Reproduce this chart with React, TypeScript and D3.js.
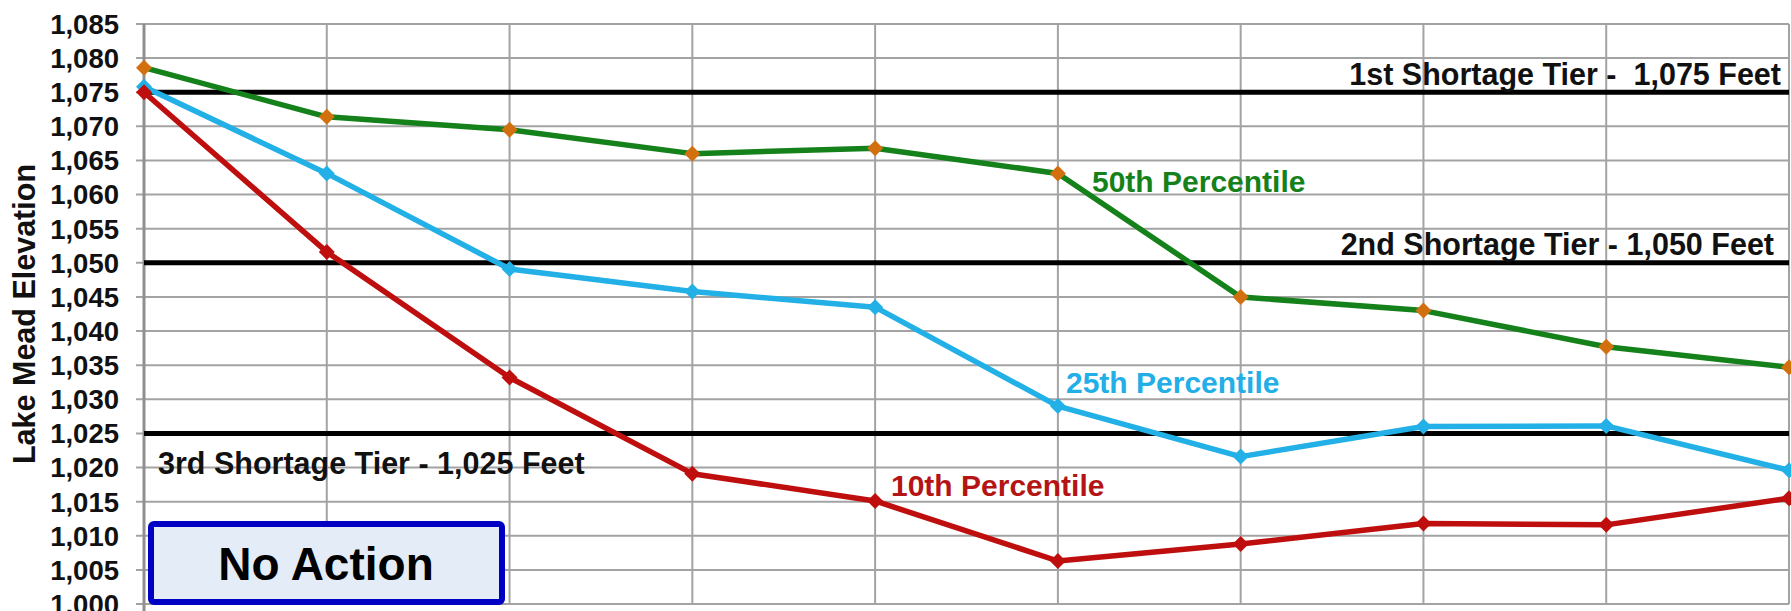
import React from "react";
import * as d3 from "d3";

const categories = ["2015", "2016", "2017", "2018", "2019", "2020", "2021", "2022", "2023", "2024"];
const p50 = [1078.6, 1071.4, 1069.5, 1066.0, 1066.8, 1063.1, 1045.0, 1043.0, 1037.7, 1034.7];
const p25 = [1075.8, 1063.1, 1049.1, 1045.8, 1043.5, 1029.0, 1021.6, 1026.0, 1026.1, 1019.6];
const p10 = [1075.0, 1051.6, 1033.2, 1019.1, 1015.1, 1006.3, 1008.8, 1011.8, 1011.6, 1015.5];
const yTicks = d3.range(1000, 1086, 5);
const tiers = [
  { value: 1075, label: "1st Shortage Tier -\u00a0\u00a01,075 Feet" },
  { value: 1050, label: "2nd Shortage Tier - 1,050 Feet" },
  { value: 1025, label: "3rd Shortage Tier - 1,025 Feet" },
];
const seriesLabels = ["50th Percentile", "25th Percentile", "10th Percentile"];
const boxLabel = "No Action";
const yTitle = "Lake Mead Elevation";

const W = 1791;
const H = 611;
const FONT = "'Liberation Sans', Arial, sans-serif";

export default function App() {
  const x = d3.scalePoint<string>().domain(categories).range([144, 1789]);
  const y = d3.scaleLinear().domain([1000, 1085]).range([604, 24]);
  const line = d3
    .line<number>()
    .x((_, i) => x(categories[i]) as number)
    .y((d) => y(d));
  const sq = d3.symbol(d3.symbolSquare, 128)() as string;

  const series = [
    { data: p50, stroke: "#15811a", marker: "#d2700f", text: "#15811a", label: seriesLabels[0], lx: 1092, ly: 192 },
    { data: p25, stroke: "#22b0e6", marker: "#22b0e6", text: "#22aee6", label: seriesLabels[1], lx: 1066, ly: 393 },
    { data: p10, stroke: "#be0e0e", marker: "#be0e0e", text: "#b41414", label: seriesLabels[2], lx: 891, ly: 496 },
  ];

  return (
    <svg
      width={W}
      height={H}
      style={{ position: "absolute", left: 0, top: 0, background: "#fff" }}
      fontFamily={FONT}
    >
      <rect x={0} y={0} width={W} height={H} fill="#fff" />
      {yTicks.map((t) => (
        <line key={"h" + t} x1={136} x2={1789} y1={y(t)} y2={y(t)} stroke="#a3a3a3" strokeWidth={2} />
      ))}
      {categories.map((c, i) =>
        i === 0 ? null : (
          <line key={"v" + c} x1={x(c)} x2={x(c)} y1={y(1085)} y2={y(1000)} stroke="#a3a3a3" strokeWidth={2} />
        )
      )}
      <line x1={144} x2={144} y1={y(1085)} y2={H} stroke="#8f8f8f" strokeWidth={3} />
      {yTicks.map((t) => (
        <text
          key={"l" + t}
          x={119}
          y={y(t)}
          dy="0.36em"
          textAnchor="end"
          fontSize={27.5}
          fontWeight="bold"
          fill="#111"
        >
          {d3.format(",")(t)}
        </text>
      ))}
      <text
        transform={`translate(35,${314}) rotate(-90)`}
        textAnchor="middle"
        fontSize={30.5}
        fontWeight="bold"
        fill="#111"
      >
        {yTitle}
      </text>
      {tiers.map((t) => (
        <line key={"t" + t.value} x1={144} x2={1789} y1={y(t.value)} y2={y(t.value)} stroke="#000" strokeWidth={5} />
      ))}
      <text x={1781} y={85} textAnchor="end" fontSize={30.5} fontWeight="bold" fill="#111">
        {tiers[0].label}
      </text>
      <text x={1774} y={255} textAnchor="end" fontSize={30.5} fontWeight="bold" fill="#111">
        {tiers[1].label}
      </text>
      <text x={158} y={474} textAnchor="start" fontSize={30.5} fontWeight="bold" fill="#111">
        {tiers[2].label}
      </text>
      {series.map((s) => (
        <g key={s.label}>
          <path d={line(s.data) as string} fill="none" stroke={s.stroke} strokeWidth={5.5} strokeLinejoin="round" />
          {s.data.map((v, i) => (
            <path
              key={i}
              d={sq}
              transform={`translate(${x(categories[i])},${y(v)}) rotate(45)`}
              fill={s.marker}
            />
          ))}
          <text x={s.lx} y={s.ly} fontSize={30} fontWeight="bold" fill={s.text}>
            {s.label}
          </text>
        </g>
      ))}
      <rect x={151} y={524} width={351} height={78} rx={3} fill="#e4ecf8" stroke="#0000c4" strokeWidth={6} />
      <text x={326} y={580} textAnchor="middle" fontSize={46} fontWeight="bold" fill="#000">
        {boxLabel}
      </text>
    </svg>
  );
}
